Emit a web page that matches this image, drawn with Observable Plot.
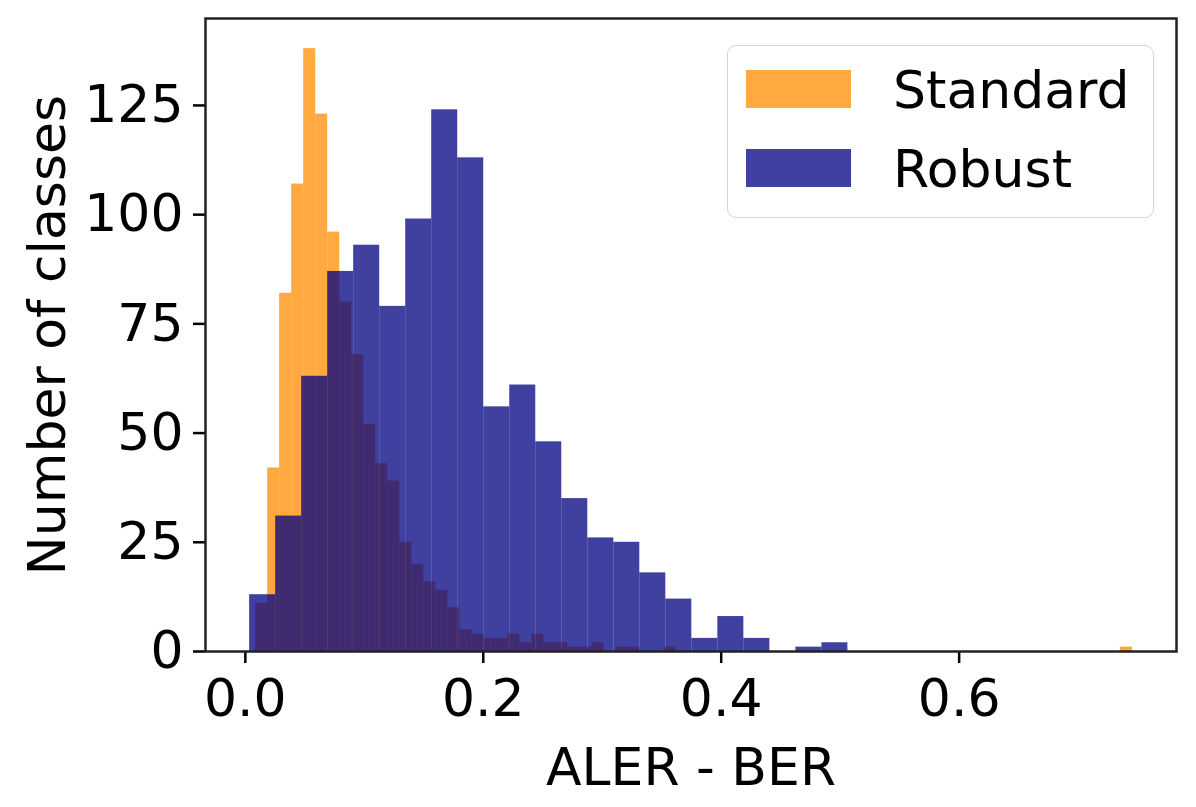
<!DOCTYPE html>
<html>
<head>
<meta charset="utf-8">
<script src="https://cdn.jsdelivr.net/npm/d3@7"></script>
<script src="https://cdn.jsdelivr.net/npm/@observablehq/plot@0.6"></script>
<style>
  body { margin: 0; background: #ffffff; }
  #wrap { position: relative; width: 1196px; height: 807px; font-family: "DejaVu Sans", sans-serif; }
  .legend { position: absolute; left: 727px; top: 45px; width: 427px; height: 173px;
            border: 1.5px solid #d4d4d4; border-radius: 9px; background: rgba(255,255,255,0.8);
            box-sizing: border-box; }
  .legend .sw { position: absolute; left: 18px; width: 105px; height: 38px; }
  .legend .lab { position: absolute; left: 165px; font-size: 52px; line-height: 52px; color: #000; white-space: nowrap; }
</style>
</head>
<body>
<div id="wrap"></div>
<script>
// ---- data ----
const seriesNames = ["Standard", "Robust"];
const seriesColors = ["darkorange", "navy"];
const seriesOpacity = 0.75;

const xTicks = [0, 0.2, 0.4, 0.6];
const yTicks = [0, 25, 50, 75, 100, 125];
const xLabel = "ALER - BER";
const yLabel = "Number of classes";

// Standard: 73 bins
const standardBinStart = 0.00866;
const standardBinWidth = 0.010095;
const standardCounts = [
  11, 42, 82, 107, 138, 123, 96, 80, 68, 52,
  43, 39, 25, 20, 16, 14, 10, 5, 4, 3,
  3, 4, 2, 4, 2, 2, 1, 1, 2, 0,
  1, 1, 0, 0, 1, 0, 0, 0, 0, 0,
  0, 0, 0, 0, 0, 0, 0, 0, 0, 0,
  0, 0, 0, 0, 0, 0, 0, 0, 0, 0,
  0, 0, 0, 0, 0, 0, 0, 0, 0, 0,
  0, 0, 1
];

// Robust: 23 bins
const robustBinStart = 0.00361;
const robustBinWidth = 0.021864;
const robustCounts = [
  13, 31, 63, 87, 93, 79, 99, 124, 113, 56,
  61, 48, 35, 26, 25, 18, 12, 3, 8, 3,
  0, 1, 2
];

function toBins(start, width, counts, series) {
  return counts
    .map((c, i) => ({x1: start + i * width, x2: start + (i + 1) * width, count: c, series}))
    .filter(d => d.count > 0);
}
const standardBins = toBins(standardBinStart, standardBinWidth, standardCounts, seriesNames[0]);
const robustBins = toBins(robustBinStart, robustBinWidth, robustCounts, seriesNames[1]);

// matplotlib-like 5% margins
const allEdges = [...standardBins, ...robustBins].flatMap(d => [d.x1, d.x2]);
const xMin = d3.min(allEdges), xMax = d3.max(allEdges);
const xPad = (xMax - xMin) * 0.05;
const yMax = d3.max([...standardCounts, ...robustCounts]) * 1.05;

const chart = Plot.plot({
  width: 1196,
  height: 807,
  marginLeft: 205,
  marginRight: 20,
  marginTop: 18,
  marginBottom: 156,
  style: {fontFamily: "DejaVu Sans", fontSize: "52px", color: "#000", background: "#fff"},
  x: {domain: [xMin - xPad, xMax + xPad], ticks: xTicks, tickFormat: d3.format(".1f"),
      tickSize: 12, tickPadding: 16, label: null},
  y: {domain: [0, yMax], ticks: yTicks, tickSize: 12, tickPadding: 10, label: null},
  marks: [
    Plot.rectY(standardBins, {x1: "x1", x2: "x2", y: "count", fill: seriesColors[0], fillOpacity: seriesOpacity}),
    Plot.rectY(robustBins, {x1: "x1", x2: "x2", y: "count", fill: seriesColors[1], fillOpacity: seriesOpacity}),
    Plot.frame({stroke: "#222", strokeWidth: 2.5}),
    Plot.text([xLabel], {frameAnchor: "bottom", dy: 117, lineAnchor: "middle", textAnchor: "middle", fontSize: 52}),
    Plot.text([yLabel], {frameAnchor: "left", dx: -157, rotate: -90, lineAnchor: "middle", textAnchor: "middle", fontSize: 52})
  ]
});
d3.select(chart).selectAll("[aria-label$='tick'] path, [aria-label$='tick']").attr("stroke-width", 2.5);

const wrap = document.getElementById("wrap");
wrap.appendChild(chart);

// legend (inside the axes, upper right)
const legend = document.createElement("div");
legend.className = "legend";
const rowCenters = [43, 122];
seriesNames.forEach((name, i) => {
  const sw = document.createElement("div");
  sw.className = "sw";
  sw.style.top = (rowCenters[i] - 19) + "px";
  sw.style.background = seriesColors[i];
  sw.style.opacity = seriesOpacity;
  legend.appendChild(sw);
  const lab = document.createElement("div");
  lab.className = "lab";
  lab.style.top = (rowCenters[i] - 25) + "px";
  lab.textContent = name;
  legend.appendChild(lab);
});
wrap.appendChild(legend);
</script>
</body>
</html>
